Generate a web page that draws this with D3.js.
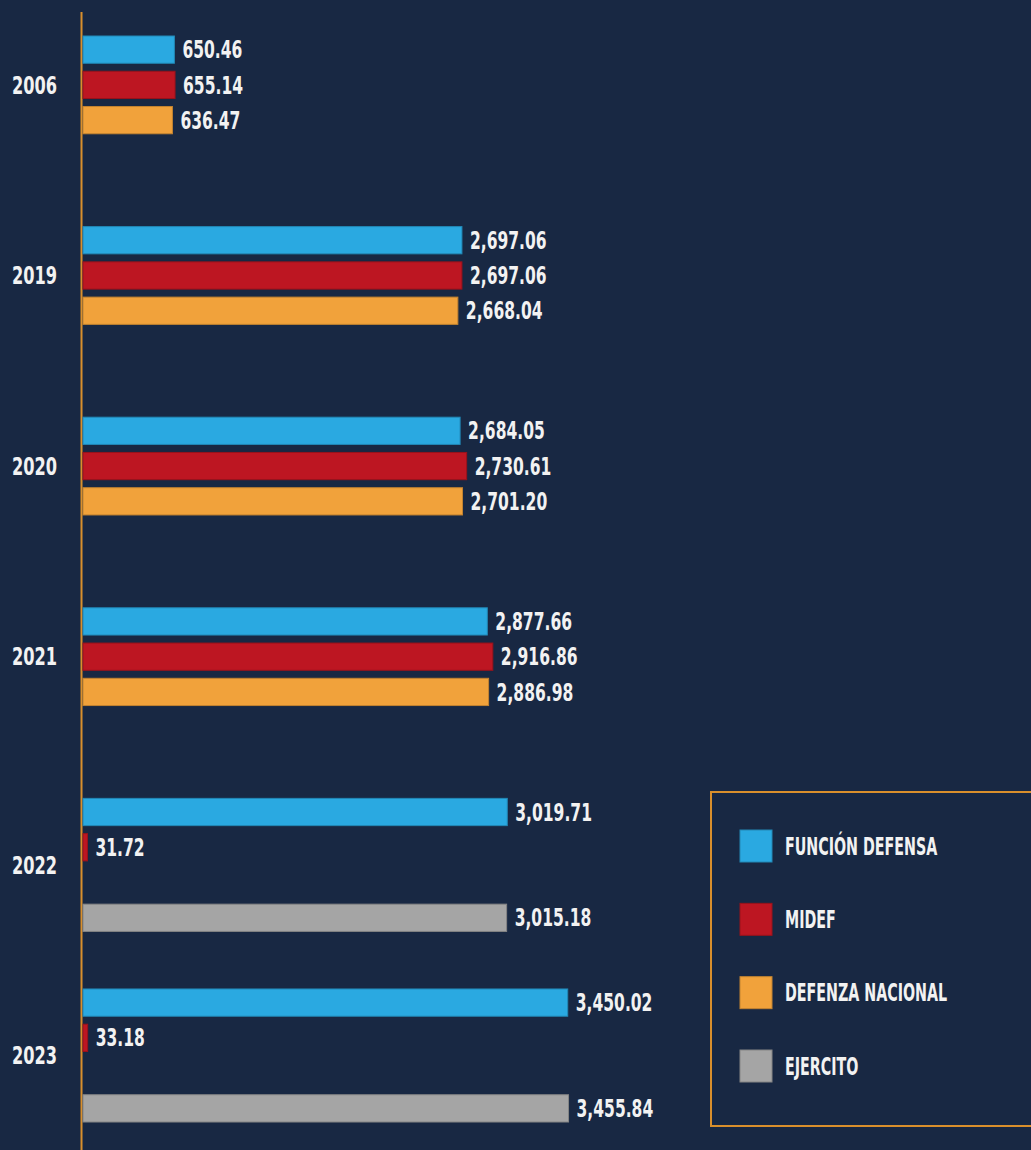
<!DOCTYPE html>
<html>
<head>
<meta charset="utf-8">
<script src="https://cdn.jsdelivr.net/npm/d3@7"></script>
<style>
  html, body { margin: 0; padding: 0; background: #182843; }
  svg { display: block; }
  text { font-family: "DejaVu Sans Condensed", "DejaVu Sans", sans-serif; font-weight: bold; fill: #f2f2f2; }
</style>
</head>
<body>
<svg id="svg"></svg>
<script>
const years = ['2006', '2019', '2020', '2021', '2022', '2023']
const seriesNames = ['FUNCIÓN DEFENSA', 'MIDEF', 'DEFENZA NACIONAL', 'EJERCITO']
const funcionDefensa = [650.46, 2697.06, 2684.05, 2877.66, 3019.71, 3450.02]
const midef = [655.14, 2697.06, 2730.61, 2916.86, 31.72, 33.18]
const defensaNacional = [636.47, 2668.04, 2701.20, 2886.98, null, null]
const ejercito = [null, null, null, null, 3015.18, 3455.84]
const colors = ['#2aa9e1', '#bd1622', '#f1a23b', '#a5a5a5']

const allSeries = [funcionDefensa, midef, defensaNacional, ejercito]

const width = 1031
const height = 1150

const svg = d3.select('#svg')
  .attr('width', width)
  .attr('height', height)
  .style('background-color', '#182843')

// flatten into rows
const rows = []
years.forEach((y, i) => {
  allSeries.forEach((s, j) => {
    if (s[i] != null) rows.push({ year: y, series: seriesNames[j], value: s[i], color: colors[j] })
  })
})

const xScale = d3.scaleLinear()
  .domain([0, 3500])
  .range([83, 83 + 3500 * 0.1405])

const yScale = d3.scaleBand()
  .domain(years)
  .range([36, 1122])
  .paddingInner(0.302)
  .paddingOuter(0)

const innerScale = d3.scaleBand()
  .domain(seriesNames)
  .range([0, yScale.bandwidth()])
  .paddingInner(0.227)
  .paddingOuter(0)

const fmt = d3.format(',.2f')
// the original font is a tall narrow one, so squeeze the condensed font a bit more
const squeeze = 0.72

// axis line
svg.append('line')
  .attr('x1', 81.5).attr('x2', 81.5)
  .attr('y1', 12).attr('y2', height)
  .attr('stroke', '#d98f2c')
  .attr('stroke-width', 2)

const barGrp = svg.append('g')

barGrp.selectAll('rect')
  .data(rows)
  .enter()
  .append('rect')
  .attr('x', xScale(0))
  .attr('y', d => yScale(d.year) + innerScale(d.series))
  .attr('width', d => xScale(d.value) - xScale(0))
  .attr('height', innerScale.bandwidth())
  .attr('fill', d => d.color)
  .attr('stroke', d => d3.color(d.color).darker(0.6))
  .attr('stroke-width', 1)

barGrp.selectAll('text')
  .data(rows)
  .enter()
  .append('text')
  .attr('transform', d => 'translate(' + (xScale(d.value) + 8) + ',' +
    (yScale(d.year) + innerScale(d.series) + innerScale.bandwidth() / 2) + ') scale(' + squeeze + ',1)')
  .attr('dy', '0.36em')
  .style('font-size', '24px')
  .text(d => fmt(d.value))

// year labels, centred on the bars that are there
svg.append('g').selectAll('text')
  .data(years)
  .enter()
  .append('text')
  .attr('transform', y => {
    const present = rows.filter(r => r.year === y)
    const top = d3.min(present, r => innerScale(r.series))
    const bot = d3.max(present, r => innerScale(r.series)) + innerScale.bandwidth()
    return 'translate(12,' + (yScale(y) + (top + bot) / 2) + ') scale(0.75,1)'
  })
  .attr('dy', '0.36em')
  .style('font-size', '24px')
  .text(y => y)

// legend
const legend = svg.append('g')
legend.append('rect')
  .attr('x', 711).attr('y', 792)
  .attr('width', 340).attr('height', 334)
  .attr('fill', 'none')
  .attr('stroke', '#d98f2c')
  .attr('stroke-width', 2)

const legendScale = d3.scalePoint()
  .domain(seriesNames)
  .range([846, 1066])

const items = legend.selectAll('g.item')
  .data(seriesNames)
  .enter()
  .append('g')
  .attr('class', 'item')
  .attr('transform', d => 'translate(740,' + legendScale(d) + ')')

items.append('rect')
  .attr('x', 0).attr('y', -16)
  .attr('width', 32).attr('height', 32)
  .attr('fill', (d, i) => colors[i])
  .attr('stroke', (d, i) => d3.color(colors[i]).darker(0.6))

items.append('text')
  .attr('transform', 'translate(45,0) scale(0.66,1)')
  .attr('dy', '0.36em')
  .style('font-size', '24px')
  .text(d => d)
</script>
</body>
</html>
